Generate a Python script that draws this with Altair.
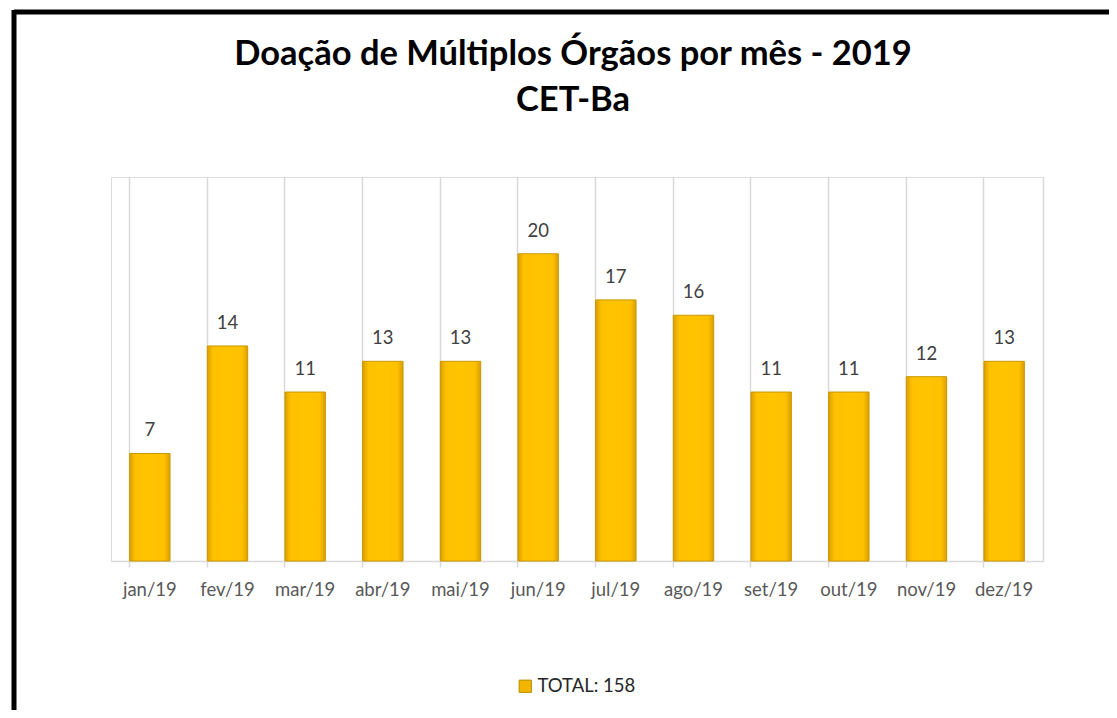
import altair as alt
import pandas as pd

title_lines = ["Doação de Múltiplos Órgãos por mês - 2019", "CET-Ba"]
months = ["jan/19", "fev/19", "mar/19", "abr/19", "mai/19", "jun/19",
          "jul/19", "ago/19", "set/19", "out/19", "nov/19", "dez/19"]
values = [7, 14, 11, 13, 13, 20, 17, 16, 11, 11, 12, 13]
series_label = f"TOTAL: {sum(values)}"

df = pd.DataFrame({"mes": months, "valor": values, "serie": series_label})

FONT = "Lato"

x_enc = alt.X(
    "mes:N", sort=months, title=None,
    scale=alt.Scale(paddingInner=0.48, paddingOuter=0.24),
    axis=alt.Axis(
        labelAngle=0, labelFont=FONT, labelFontSize=18.5, labelColor="#595959",
        labelPadding=13, domainColor="#D9D9D9", domainWidth=1.5,
        tickColor="#D9D9D9", tickWidth=1.5, tickSize=6, bandPosition=0,
        grid=True, gridColor="#D9D9D9", gridWidth=1.5,
    ),
)
y_enc = alt.Y(
    "valor:Q", title=None,
    scale=alt.Scale(domain=[0, 25], nice=False),
    axis=alt.Axis(orient="right", labels=False, ticks=False, grid=False,
                  domain=True, domainColor="#D9D9D9", domainWidth=1.5),
)

gold = alt.Gradient(
    gradient="linear", x1=0, x2=1, y1=0, y2=0,
    stops=[
        alt.GradientStop(color="#D9A000", offset=0),
        alt.GradientStop(color="#FFC000", offset=0.14),
        alt.GradientStop(color="#FFC400", offset=0.5),
        alt.GradientStop(color="#FFC000", offset=0.86),
        alt.GradientStop(color="#D9A000", offset=1),
    ],
)

base = alt.Chart(df)

bars = base.mark_bar(fill=gold, stroke="#C99700", strokeWidth=1).encode(
    x=x_enc, y=y_enc
)

labels = base.mark_text(
    dy=-13, font=FONT, fontSize=18.5, color="#404040", baseline="bottom"
).encode(x=alt.X("mes:N", sort=months), y="valor:Q", text="valor:Q")

legend_layer = alt.Chart(df.head(1)).mark_square(opacity=0, size=1).encode(
    x=alt.X("mes:N", sort=months),
    y="valor:Q",
    color=alt.Color(
        "serie:N", title=None,
        scale=alt.Scale(domain=[series_label], range=["#F2B600"]),
        legend=alt.Legend(
            orient="none", legendX=405, legendY=500, symbolType="square",
            symbolSize=150, symbolOpacity=1, symbolStrokeColor="#B88A00",
            symbolStrokeWidth=1, labelFont=FONT, labelFontSize=18.5,
            labelColor="#262626", labelOffset=3,
        ),
    ),
)

one = df.head(1)
title1 = alt.Chart(one).mark_text(
    text=title_lines[0], font=FONT, fontSize=34.5, fontWeight="bold",
    color="#000000", baseline="middle", align="center",
).encode(x=alt.value(462), y=alt.value(-122))
title2 = alt.Chart(one).mark_text(
    text=title_lines[1], font=FONT, fontSize=34.5, fontWeight="bold",
    color="#000000", baseline="middle", align="center",
).encode(x=alt.value(462), y=alt.value(-76))

border_top = alt.Chart(one).mark_rule(color="black", strokeWidth=5).encode(
    x=alt.value(-97), x2=alt.value(1000), y=alt.value(-165)
)
border_left = alt.Chart(one).mark_rule(color="black", strokeWidth=5).encode(
    x=alt.value(-97), y=alt.value(-167), y2=alt.value(540)
)

chart = alt.layer(
    border_top, border_left, bars, labels, legend_layer, title1, title2
).properties(
    width=932, height=384,
    autosize=alt.AutoSizeParams(type="none"),
    padding={"left": 103, "top": 169, "right": 66, "bottom": 149},
).configure_view(stroke=None).configure(background="white")

chart.save("out.html", embed_options={"renderer": "svg", "actions": False})
